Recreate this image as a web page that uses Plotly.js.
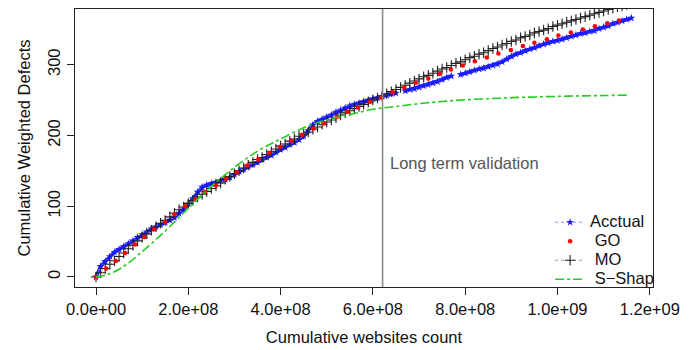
<!DOCTYPE html>
<html>
<head>
<meta charset="utf-8">
<script src="https://cdn.plot.ly/plotly-3.0.1.min.js"></script>
<style>html,body{margin:0;padding:0;background:#fff;}#chart{width:699px;height:350px;}</style>
</head>
<body>
<div id="chart"></div>
<script>
// ---- data (x in units of 1e8 websites) ----
const actualX = [0,0.1,0.2,0.3,0.4,0.5,0.6,0.7,0.8,0.9,1.0,1.1,1.2,1.3,1.4,1.5,1.6,1.7,1.8,1.9,2.0,2.1,2.2,2.3,2.4,2.5,2.6,2.7,2.8,2.9,3.0,3.1,3.2,3.3,3.4,3.5,3.6,3.7,3.8,3.9,4.0,4.1,4.2,4.3,4.4,4.5,4.6,4.7,4.8,4.9,5.0,5.1,5.2,5.3,5.4,5.5,5.6,5.7,5.8,5.9,6.0,6.1,6.2,6.3,6.4,6.5,6.6,6.7,6.8,6.9,7.0,7.1,7.2,7.3,7.4,7.5,7.6,7.7,7.8,7.9,8.0,8.1,8.2,8.3,8.4,8.5,8.6,8.7,8.8,8.9,9.0,9.1,9.2,9.3,9.4,9.5,9.6,9.7,9.8,9.9,10.0,10.1,10.2,10.3,10.4,10.5,10.6,10.7,10.8,10.9,11.0,11.1,11.2,11.3,11.4,11.5,11.6];
const actualY = [0,15,22,29,35,39,43,47,51,56,60,64,68,71,74,77,80,84,90,96,103,111,120,127,130,132,134,136,138,141,145,149,152,156,159,162,166,169,172,176,180,183,187,190,194,199,207,215,220,223,226,229,233,236,239,242,244,246,248,250,252,253,255,257,259,260,null,263,265,266,268,270,272,274,276,279,282,284,null,286,288,290,292,294,295,297,299,301,304,308,312,315,317,320,322,324,327,329,331,333,334,336,338,340,342,344,345,347,348,351,353,355,358,360,362,364,366];

const goX = [0,0.22,0.43,0.63,0.845,1.05,1.26,1.5,1.7,1.93,2.15,2.36,2.6,2.82,3.05,3.28,3.52,3.76,3.99,4.23,4.47,4.71,4.94,5.22,5.45,5.68,5.94,6.18,6.43,6.68,6.93,7.2,7.45,7.69,7.95,8.21,8.47,8.72,8.99,9.25,9.5,9.77,10.02,10.29,10.55,10.81,11.08,11.34];
const goY = [0,12,22.6,34,46,56.6,67.5,77.8,88.7,100,110,120.3,129.3,139,148,157.6,166.5,175.5,184,192.5,201,210,217,226.4,233.5,239.7,247.6,253.8,261,268,274.5,280.7,286.8,293.4,299,305,310.4,316,320.8,326.5,331,336,341.5,345.5,350,354.5,358.5,362.5];

const moX = [0,0.1,0.2,0.3,0.4,0.5,0.6,0.7,0.8,0.9,1.0,1.1,1.2,1.3,1.4,1.5,1.6,1.7,1.8,1.9,2.0,2.1,2.2,2.3,2.4,2.5,2.6,2.7,2.8,2.9,3.0,3.1,3.2,3.3,3.4,3.5,3.6,3.7,3.8,3.9,4.0,4.1,4.2,4.3,4.4,4.5,4.6,4.7,4.8,4.9,5.0,5.1,5.2,5.3,5.4,5.5,5.6,5.7,5.8,5.9,6.0,6.1,6.2,6.3,6.4,6.5,6.6,6.7,6.8,6.9,7.0,7.1,7.2,7.3,7.4,7.5,7.6,7.7,7.8,7.9,8.0,8.1,8.2,8.3,8.4,8.5,8.6,8.7,8.8,8.9,9.0,9.1,9.2,9.3,9.4,9.5,9.6,9.7,9.8,9.9,10.0,10.1,10.2,10.3,10.4,10.5,10.6,10.7,10.8,10.9,11.0,11.1,11.2,11.3,11.4,11.5];
const moY = [0,6,12,18,23,29,34,40,45,51,56,61,66,71,76,80,85,90,95,99,104,108,113,117,121,125,129,133,138,142,146,150,154,158,162,166,169,173,177,181,185,188,192,195,199,202,205,209,212,216,219,222,225,229,232,235,238,241,244,247,250,253,256,259,262,265,268,271,274,277,280,283,285,288,291,294,296,299,302,304,307,310,312,315,317,320,323,325,328,330,333,335,338,340,342,345,347,349,351,354,356,358,360,362,364,366,368,370,372,374,376,378,380,382,383,385];

const sX = [0,0.25,0.5,0.75,1.0,1.25,1.5,1.75,2.0,2.25,2.5,2.75,3.0,3.25,3.5,3.75,4.0,4.5,5.0,5.5,6.0,6.5,7.0,7.5,8.0,8.5,9.0,9.5,10.0,10.5,11.0,11.5];
const sY = [0,3.5,11,22,36,50,65,81,97,113,128,142,155,167,178,187,195,211,222,229.5,237,241,245,248,250.5,252,253.5,254.5,255.3,256,256.5,257];

const seriesNames = ['Acctual', '\u00a0GO', '\u00a0MO', '\u00a0S\u2212Shap'];
const xTickVals = [0, 2e8, 4e8, 6e8, 8e8, 1e9, 1.2e9];
const xTickLabels = ['0.0e+00','2.0e+08','4.0e+08','6.0e+08','8.0e+08','1.0e+09','1.2e+09'];
const yTickVals = [0, 100, 200, 300];
const yTickLabels = ['0', '100', '200', '300'];
const validationX = 6.21e8;
const validationLabel = 'Long term validation';
const labelPos = {x: 6.33e8, y: 161};

const scale = v => (v === null ? null : v * 1e8);
const FONT = 'Liberation Sans, Arial, Helvetica, sans-serif';
const FS = 16.5;
const lg = t => '<span style="font-size:' + FS + 'px">' + t + '</span>';

const traces = [
  { x: actualX.map(scale), y: actualY, mode: 'lines', type: 'scatter',
    line: {color: '#2222ff', width: 3.5}, showlegend: false, hoverinfo: 'skip', connectgaps: false },
  { x: actualX.map(scale), y: actualY, name: lg(seriesNames[0]), mode: 'lines+markers', type: 'scatter',
    line: {color: '#9090ff', width: 1, dash: 'dot'}, connectgaps: false,
    marker: {symbol: 'star', size: 6, color: '#1a1aff', line: {width: 0}}, legendrank: 1 },
  { x: moX.map(scale), y: moY, name: lg(seriesNames[2]), mode: 'lines+markers', type: 'scatter',
    line: {color: '#9a9a9a', width: 1, dash: 'dot'},
    marker: {symbol: 'cross-thin', size: 7.5, color: '#000', line: {width: 1.1, color: '#222'}}, legendrank: 3 },
  { x: goX.map(scale), y: goY, name: lg(seriesNames[1]), mode: 'markers', type: 'scatter',
    marker: {symbol: 'circle', size: 4.5, color: '#ff0000', line: {width: 0}}, legendrank: 2 },
  { x: sX.map(scale), y: sY, name: lg(seriesNames[3]), mode: 'lines', type: 'scatter',
    line: {color: '#22cc22', width: 1.6, dash: 'dashdot', shape: 'spline'}, legendrank: 4 }
];

const axisCommon = {
  showgrid: false, zeroline: false, showline: true, mirror: true,
  linecolor: '#222', linewidth: 1, ticks: 'outside', ticklen: 7, tickwidth: 1, tickcolor: '#222',
  tickfont: {family: FONT, size: FS, color: '#111'}
};

const layout = {
  width: 699, height: 350,
  margin: {l: 75, r: 46, t: 9, b: 63},
  paper_bgcolor: '#fff', plot_bgcolor: '#fff',
  font: {family: FONT, size: FS, color: '#111'},
  xaxis: Object.assign({}, axisCommon, {
    range: [-4.55e7, 1.207e9], tickmode: 'array', tickvals: xTickVals, ticktext: xTickLabels,
    title: {text: 'Cumulative websites count', font: {family: FONT, size: FS, color: '#111'}, standoff: 14}
  }),
  yaxis: Object.assign({}, axisCommon, {
    range: [-14.15, 378.8], tickmode: 'array', tickvals: yTickVals, ticktext: yTickLabels, tickangle: -90,
    title: {text: 'Cumulative Weighted Defects', font: {family: FONT, size: FS, color: '#111'}, standoff: 10}
  }),
  legend: {
    x: 0.822, y: 0.285, xanchor: 'left', yanchor: 'top', bgcolor: 'rgba(0,0,0,0)',
    font: {family: FONT, size: 12, color: '#111'}, tracegroupgap: 0, itemwidth: 30,
    traceorder: 'normal'
  },
  shapes: [{type: 'line', xref: 'x', yref: 'paper', x0: validationX, x1: validationX, y0: 0, y1: 1,
            line: {color: '#8a8a8a', width: 1.6}, layer: 'above'}],
  annotations: [{x: labelPos.x, y: labelPos.y, xref: 'x', yref: 'y', text: validationLabel,
                 showarrow: false, xanchor: 'left', yanchor: 'middle',
                 font: {family: FONT, size: FS, color: '#555'}}],
  showlegend: true
};

Plotly.newPlot('chart', traces, layout, {staticPlot: true, displayModeBar: false});
</script>
</body>
</html>
